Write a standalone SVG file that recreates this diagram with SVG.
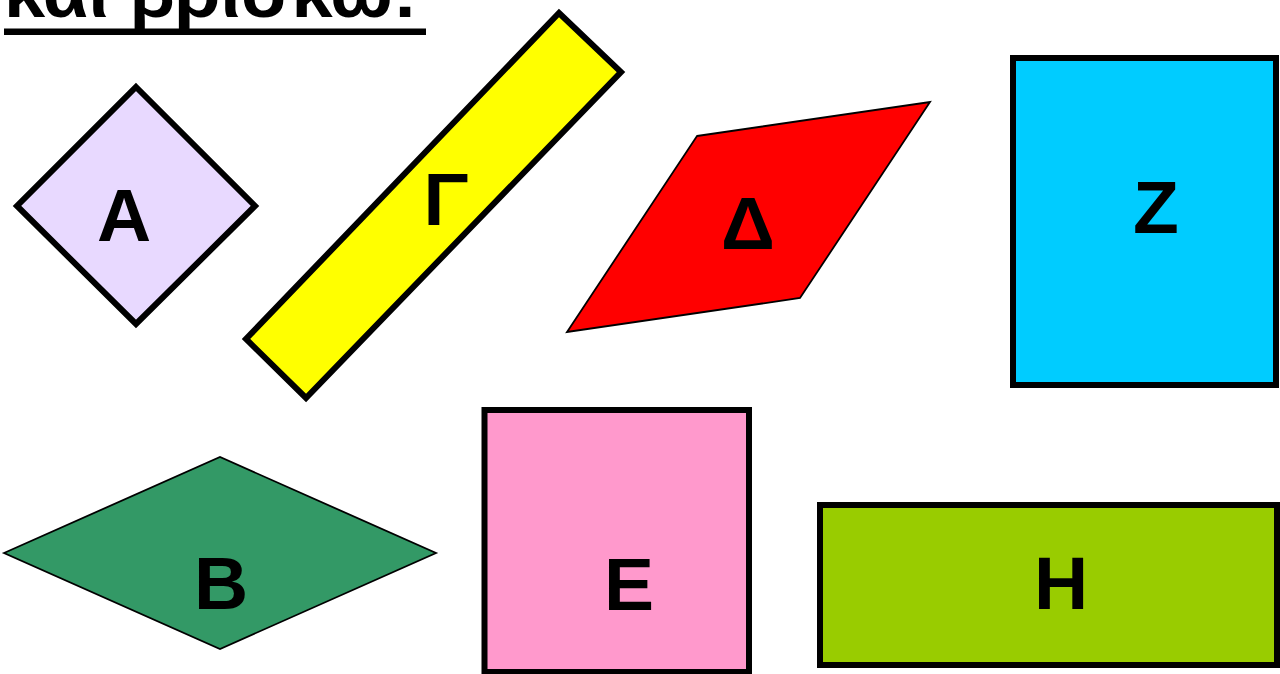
<svg xmlns="http://www.w3.org/2000/svg" width="1280" height="674" viewBox="0 0 1280 674">
<style>
.lbl{font-family:"Liberation Sans",Arial,sans-serif;font-weight:bold;font-size:75px;fill:#000;text-anchor:middle}
.thick{stroke:#000;stroke-width:6;stroke-linejoin:miter}
.thin{stroke:#000;stroke-width:1.8;stroke-linejoin:miter}
.title{font-family:"Liberation Sans",Arial,sans-serif;font-weight:bold;font-size:74px;fill:#000}
</style>
<rect width="1280" height="674" fill="#fff"/>
<g id="title">
<text class="title" x="4" y="17">και βρίσκω:</text>
<rect x="4" y="28.5" width="422" height="6.5" fill="#000"/>
</g>
<g id="nodeA">
<polygon class="thick" fill="#E8D9FF" points="136,87 255,206 136,324 17,206"/>
<text class="lbl" x="124" y="241">Α</text>
</g>
<g id="nodeG">
<polygon class="thick" fill="#FFFF00" points="559,13 621,72 306,398 246,339"/>
<text class="lbl" x="446" y="225">Γ</text>
</g>
<g id="nodeD">
<polygon class="thin" fill="#FF0000" points="697,136 930,102 800,298 567,332"/>
<text class="lbl" x="748" y="249">Δ</text>
</g>
<g id="nodeZ">
<rect class="thick" fill="#00CCFF" x="1013" y="58" width="263" height="327"/>
<text class="lbl" x="1156" y="233">Ζ</text>
</g>
<g id="nodeB">
<polygon class="thin" fill="#339966" points="4,553 220,457 436,553 220,649"/>
<text class="lbl" x="221" y="609">Β</text>
</g>
<g id="nodeE">
<rect class="thick" fill="#FF99CC" x="484.5" y="410" width="264.5" height="262"/>
<text class="lbl" x="629" y="610">Ε</text>
</g>
<g id="nodeH">
<rect class="thick" fill="#99CC00" x="820" y="505" width="457" height="160"/>
<text class="lbl" x="1061" y="609">Η</text>
</g>
<g id="connectors"/>
</svg>
